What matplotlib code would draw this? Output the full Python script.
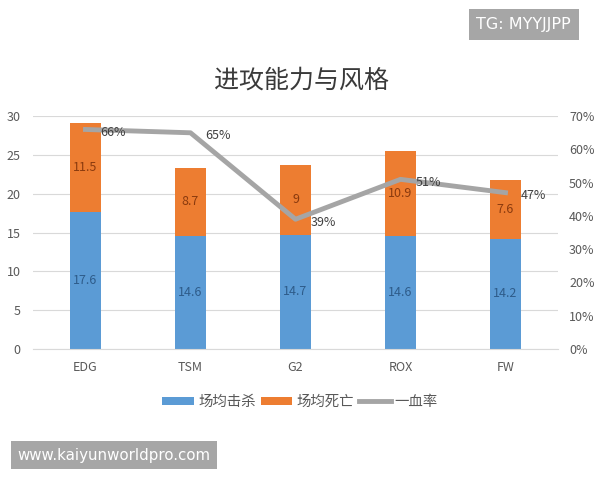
import numpy as np
import matplotlib.pyplot as plt
from matplotlib.ticker import PercentFormatter

plt.rcParams['font.family'] = ['Noto Sans CJK SC', 'DejaVu Sans']

# =========================================================
# DATA
# =========================================================
teams = ["EDG", "TSM", "G2", "ROX", "FW"]
kills = [17.6, 14.6, 14.7, 14.6, 14.2]
deaths = [11.5, 8.7, 9, 10.9, 7.6]
first_blood = [66, 65, 39, 51, 47]

blue = "#5B9BD5"
orange = "#ED7D31"
gray = "#A5A5A5"
tick_c = "#595959"

# =========================================================
# FIGURE
# =========================================================
fig = plt.figure(figsize=(6, 4.8), dpi=100)
ax = fig.add_axes([0.055, 0.273, 0.875, 0.485])
x = np.arange(len(teams))
w = 0.29

b1 = ax.bar(x, kills, w, color=blue, label="场均击杀", zorder=2)
b2 = ax.bar(x, deaths, w, bottom=kills, color=orange, label="场均死亡", zorder=2)

for i in range(len(teams)):
    ax.text(x[i], kills[i] / 2, f"{kills[i]:g}", ha="center", va="center",
            fontsize=9, color="#2E5C8A", zorder=5)
    ax.text(x[i], kills[i] + deaths[i] / 2, f"{deaths[i]:g}", ha="center", va="center",
            fontsize=9, color="#8A3A0E", zorder=5)

ax.set_ylim(0, 30)
ax.set_yticks(range(0, 31, 5))
ax.set_xlim(-0.5, len(teams) - 0.5)
ax.set_xticks(x)
ax.set_xticklabels(teams)
ax.grid(axis="y", color="#D9D9D9", linewidth=0.8, zorder=0)
for s in ax.spines.values():
    s.set_visible(False)
ax.spines["bottom"].set_visible(True)
ax.spines["bottom"].set_color("#D9D9D9")
ax.tick_params(length=0, colors=tick_c, labelsize=9, pad=9)
ax.tick_params(axis="y", pad=9)

ax2 = ax.twinx()
ln, = ax2.plot(x, first_blood, color=gray, linewidth=3.5, label="一血率", zorder=4)
ax2.set_ylim(0, 70)
ax2.set_yticks(range(0, 71, 10))
ax2.yaxis.set_major_formatter(PercentFormatter(decimals=0))
for s in ax2.spines.values():
    s.set_visible(False)
ax2.tick_params(length=0, colors=tick_c, labelsize=9, pad=8)

for i in range(len(teams)):
    ax2.annotate(f"{first_blood[i]}%", (x[i], first_blood[i]), xytext=(20, -2),
                 textcoords="offset points", ha="center", va="center",
                 fontsize=9, color="#404040", zorder=6)

fig.text(0.502, 0.833, "进攻能力与风格", ha="center", va="center", fontsize=18, color="#3A3A3A")

fig.legend(handles=[b1, b2, ln], loc="center", bbox_to_anchor=(0.5, 0.163), ncol=3,
           frameon=False, fontsize=10.4, handlelength=2.2, handleheight=0.5,
           handletextpad=0.28, columnspacing=0.35, labelcolor=tick_c)

fig.text(0.873, 0.948, "TG: MYYJJPP", ha="center", va="center", fontsize=11.5, color="white",
         family="DejaVu Sans",
         bbox=dict(boxstyle="square,pad=0.5", fc="#A6A6A6", ec="none"))
fig.text(0.19, 0.052, "www.kaiyunworldpro.com", ha="center", va="center", fontsize=10.8,
         color="white", family="DejaVu Sans",
         bbox=dict(boxstyle="square,pad=0.42", fc="#A6A6A6", ec="none"))

plt.savefig("out.png", dpi=100)
plt.close()
